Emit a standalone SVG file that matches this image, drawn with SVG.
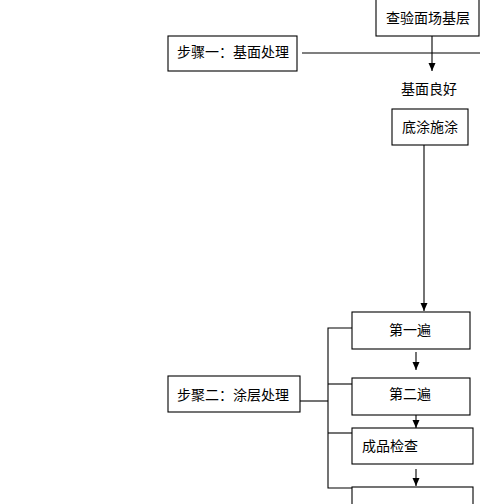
<svg xmlns="http://www.w3.org/2000/svg" width="480" height="504" viewBox="0 0 480 504">
<style>
.box{fill:#fff;stroke:#000;stroke-width:1.1}
.ln{stroke:#000;stroke-width:1.1;fill:none}
text{font-family:"Noto Sans CJK SC","Noto Sans CJK JP",sans-serif;font-size:14px;fill:#000}
.c{text-anchor:middle}
</style>
<defs>
<marker id="ah" markerUnits="userSpaceOnUse" markerWidth="10" markerHeight="10" viewBox="-1 -5 10 10" refX="8" refY="0" orient="auto">
<path d="M0,-3.5 L8,0 L0,3.5 z" fill="#000"/>
</marker>
</defs>
<rect width="480" height="504" fill="#fff"/>
<g id="connectors">
<line class="ln" x1="432" y1="36" x2="432" y2="71" marker-end="url(#ah)"/>
<line class="ln" x1="302" y1="53" x2="480" y2="53"/>
<line class="ln" x1="424" y1="145" x2="424" y2="311" marker-end="url(#ah)"/>
<line class="ln" x1="416" y1="352" x2="416" y2="370" marker-end="url(#ah)"/>
<line class="ln" x1="416" y1="415" x2="416" y2="428" marker-end="url(#ah)"/>
<line class="ln" x1="416" y1="469" x2="416" y2="486" marker-end="url(#ah)"/>
<polyline class="ln" points="352,328 328,328 328,488 352,488"/>
<line class="ln" x1="328" y1="384" x2="352" y2="384"/>
<line class="ln" x1="328" y1="433" x2="352" y2="433"/>
<line class="ln" x1="297" y1="401" x2="328" y2="401"/>
</g>
<g id="n1"><rect class="box" x="376" y="-1" width="103" height="37"/><text class="c" x="428" y="23">查验面场基层</text></g>
<g id="n2"><rect class="box" x="168" y="36" width="129" height="35"/><text x="177" y="57">步骤一：基面处理</text></g>
<g id="n3"><text class="c" x="429" y="94">基面良好</text></g>
<g id="n4"><rect class="box" x="392" y="109" width="76" height="36"/><text class="c" x="430" y="132">底涂施涂</text></g>
<g id="n5"><rect class="box" x="352" y="312" width="118" height="37"/><text class="c" x="410" y="335">第一遍</text></g>
<g id="n6"><rect class="box" x="168" y="376" width="132" height="36"/><text x="177" y="400">步聚二：涂层处理</text></g>
<g id="n7"><rect class="box" x="352" y="378" width="118" height="37"/><text class="c" x="410" y="399">第二遍</text></g>
<g id="n8"><rect class="box" x="352" y="428" width="121" height="36"/><text x="362" y="451">成品检查</text></g>
<g id="n9"><rect class="box" x="352" y="487" width="121" height="30"/></g>
</svg>
